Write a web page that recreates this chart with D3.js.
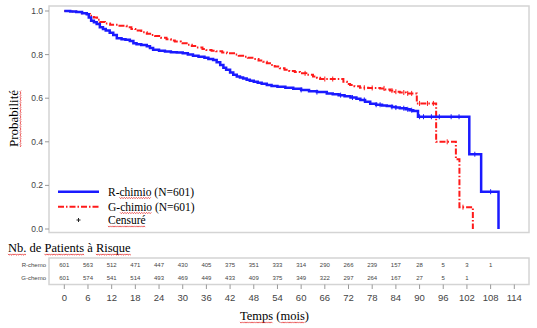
<!DOCTYPE html>
<html>
<head>
<meta charset="utf-8">
<script src="https://cdn.jsdelivr.net/npm/d3@7"></script>
<style>
	body { margin: 0; background: #fff; }
	svg { display: block; }
	.serif { font-family: "Liberation Serif", "Times New Roman", serif; fill: #000; }
	.sans { font-family: "Liberation Sans", Arial, sans-serif; }
</style>
</head>
<body>
<svg id="chart" width="537" height="328"></svg>
<script>
"use strict";

/* global d3 */

// Kaplan-Meier steps (months, survival)
var rTimes = [0, 1.5, 3, 4.5, 5.7, 6.2, 6.8, 7.5, 8.2, 9, 9.8, 10.5, 11.5, 12.4, 13.3, 14.5, 15.5, 16.6, 17.5, 18.3, 19.5, 20.9, 21.7, 22.5, 24, 25.5, 27, 28.5, 30, 31.3, 32.6, 34, 35.5, 36.5, 37.7, 38.6, 39.5, 40.3, 41, 42, 42.8, 43.7, 44.5, 45.3, 46.2, 47, 48, 49, 50, 51.3, 52.5, 54, 56, 58, 60, 62, 64, 66.5, 68, 69.5, 71, 72.5, 74, 75, 76.2, 77.5, 79, 80.5, 81.7, 83, 84, 85, 86.5, 87.5, 88.4, 89.6, 102.6, 105.6, 110];
var rSurv = [1.0, 0.998, 0.995, 0.99, 0.985, 0.97, 0.955, 0.948, 0.94, 0.925, 0.918, 0.91, 0.9, 0.89, 0.875, 0.87, 0.868, 0.862, 0.852, 0.847, 0.844, 0.838, 0.83, 0.822, 0.818, 0.814, 0.811, 0.81, 0.806, 0.8, 0.795, 0.79, 0.785, 0.78, 0.775, 0.765, 0.752, 0.74, 0.73, 0.718, 0.708, 0.7, 0.695, 0.69, 0.685, 0.68, 0.676, 0.671, 0.666, 0.66, 0.656, 0.652, 0.648, 0.643, 0.638, 0.632, 0.628, 0.622, 0.618, 0.614, 0.609, 0.603, 0.597, 0.592, 0.584, 0.574, 0.57, 0.567, 0.564, 0.56, 0.557, 0.554, 0.549, 0.545, 0.541, 0.515, 0.343, 0.171, 0.0];

var gTimes = [0, 1.5, 3, 4.5, 5.7, 6.5, 7.5, 8.3, 9, 10.3, 11.6, 13.5, 15.8, 17, 18, 19.5, 20.9, 22, 23, 24.5, 25.9, 27, 28, 29.5, 31, 32.3, 33.5, 35, 36, 37.3, 38.5, 40, 41.2, 43, 44.2, 45.3, 46.5, 48, 49.2, 50.4, 51.3, 52.1, 53.3, 54.6, 55.8, 57, 58.4, 59.7, 61.3, 63, 64, 64.8, 70.7, 71.6, 72.4, 73.5, 74.9, 77, 80, 81.2, 82.5, 83.7, 85, 86.5, 89.3, 94.2, 99.2, 100.1, 103.5];
var gSurv = [1.0, 0.998, 0.995, 0.99, 0.986, 0.978, 0.97, 0.96, 0.95, 0.943, 0.937, 0.932, 0.926, 0.918, 0.91, 0.903, 0.896, 0.89, 0.885, 0.877, 0.87, 0.865, 0.86, 0.852, 0.845, 0.839, 0.833, 0.826, 0.821, 0.818, 0.815, 0.81, 0.806, 0.8, 0.795, 0.79, 0.785, 0.78, 0.773, 0.767, 0.76, 0.752, 0.745, 0.737, 0.731, 0.725, 0.72, 0.714, 0.707, 0.7, 0.694, 0.688, 0.675, 0.665, 0.66, 0.655, 0.648, 0.647, 0.645, 0.64, 0.635, 0.63, 0.626, 0.622, 0.576, 0.4, 0.32, 0.1, 0.0];

// censored observations (months)
var rCensor = [60, 64, 70, 73, 76, 79, 80, 83, 84, 86, 87, 88, 90, 91, 93, 95, 98, 100, 104, 108];
var gCensor = [61, 66, 68, 76, 78, 81, 83, 84, 86, 87, 88, 90, 92, 93.5, 97, 101];

// number at risk table
var riskTicks = [0, 6, 12, 18, 24, 30, 36, 42, 48, 54, 60, 66, 72, 78, 84, 90, 96, 102, 108, 114];
var riskR = [601, 563, 512, 471, 447, 430, 405, 375, 351, 333, 314, 290, 266, 239, 157, 28, 5, 3, 1];
var riskG = [601, 574, 541, 514, 493, 469, 449, 433, 409, 375, 349, 322, 297, 264, 167, 27, 5, 1];
var yTicks = [0, 0.2, 0.4, 0.6, 0.8, 1.0];

var svg = d3.select("#chart");
var frameColor = "#d4d4d4";
var blue = "#1a1aff";
var red = "#ff1a1a";

var x = d3.scaleLinear().domain([0, 114]).range([64.3, 514.3]);
var y = d3.scaleLinear().domain([0, 1]).range([229, 11]);

// serif text made of parts; parts flagged true get a red spell-check squiggle
function wordText(parent, px, py, size, parts, transform) {
	var g = parent.append("g");
	if (transform) {
		g.attr("transform", transform);
	}
	var t = g.append("text")
		.attr("class", "serif")
		.attr("x", px).attr("y", py)
		.attr("font-size", size)
		.attr("xml:space", "preserve");
	if (transform) {
		t.attr("text-anchor", "middle");
	}
	parts.forEach(function(p) {
		var s = t.append("tspan").text(p[0]);
		if (p[1]) {
			s.classed("sq", true);
		}
	});
	t.selectAll("tspan.sq").each(function() {
		var b = this.getBBox();
		var yy = py + 2.2;
		var pts = [];
		for (var k = 0, xx = b.x; xx <= b.x + b.width; k++, xx += 1.2) {
			pts.push([xx, yy + (k % 2 ? 0.9 : -0.3)]);
		}
		g.append("path")
			.attr("d", d3.line()(pts))
			.attr("fill", "none")
			.attr("stroke", "#e01010")
			.attr("stroke-width", 0.7);
	});
	return g;
}

// plot frame
svg.append("rect")
	.attr("x", 49).attr("y", 6)
	.attr("width", 480).attr("height", 226.5)
	.attr("fill", "none")
	.attr("stroke", frameColor)
	.attr("stroke-width", 1.5);

// y axis ticks
var yAxis = svg.append("g").attr("class", "sans");
yAxis.selectAll("line").data(yTicks).enter().append("line")
	.attr("x1", 45).attr("x2", 49)
	.attr("y1", d => y(d)).attr("y2", d => y(d))
	.attr("stroke", "#999");
yAxis.selectAll("text").data(yTicks).enter().append("text")
	.attr("x", 43).attr("y", d => y(d) + 3)
	.attr("text-anchor", "end")
	.attr("font-size", 8.5)
	.attr("fill", "#444")
	.text(d3.format(".1f"));

// y label
wordText(svg, 0, 0, 13, [["Probabilité", true]], "translate(18,118.5) rotate(-90)");

// curves
var line = d3.line()
	.x(d => x(d[0]))
	.y(d => y(d[1]))
	.curve(d3.curveStepAfter);

var rData = d3.zip(rTimes, rSurv);
var gData = d3.zip(gTimes, gSurv);

// value of a step curve at time t
function stepAt(times, surv, t) {
	var i = d3.bisectRight(times, t) - 1;
	return surv[Math.max(0, i)];
}

svg.append("path")
	.datum(gData)
	.attr("d", line)
	.attr("fill", "none")
	.attr("stroke", red)
	.attr("stroke-width", 2)
	.attr("stroke-dasharray", "6,2,1.5,2");

svg.append("path")
	.datum(rData)
	.attr("d", line)
	.attr("fill", "none")
	.attr("stroke", blue)
	.attr("stroke-width", 2.5);

// censor marks
function drawCensor(list, times, surv, color) {
	svg.append("g").selectAll("line").data(list).enter().append("line")
		.attr("x1", d => x(d)).attr("x2", d => x(d))
		.attr("y1", d => y(stepAt(times, surv, d)) - 2.5)
		.attr("y2", d => y(stepAt(times, surv, d)) + 2.5)
		.attr("stroke", color)
		.attr("stroke-width", 1);
}
drawCensor(gCensor, gTimes, gSurv, red);
drawCensor(rCensor, rTimes, rSurv, blue);

// legend
var legend = svg.append("g");
legend.append("line")
	.attr("x1", 58).attr("x2", 99).attr("y1", 191.7).attr("y2", 191.7)
	.attr("stroke", blue).attr("stroke-width", 2.5);
legend.append("line")
	.attr("x1", 58).attr("x2", 99).attr("y1", 206.7).attr("y2", 206.7)
	.attr("stroke", red).attr("stroke-width", 2)
	.attr("stroke-dasharray", "6,2,1.5,2");
// censor symbol in the legend
legend.append("path")
	.attr("d", "M76.5,220H80.5M78.5,218V222")
	.attr("stroke", "#222")
	.attr("stroke-width", 1);

wordText(legend, 108, 195.5, 11.5, [["R-", false], ["chimio", true], [" (N=601)", false]]);
wordText(legend, 108, 210.5, 11.5, [["G-", false], ["chimio", true], [" (N=601)", false]]);
wordText(legend, 108, 224, 11.5, [["Censuré", true]]);

// risk table title
wordText(svg, 8, 252, 12.5, [["Nb.", true], [" de ", false], ["Patients", true], [" à ", false], ["Risque", true]]);

// risk table box
svg.append("rect")
	.attr("x", 49).attr("y", 258)
	.attr("width", 480).attr("height", 26.5)
	.attr("fill", "none")
	.attr("stroke", frameColor)
	.attr("stroke-width", 1.5);

var table = svg.append("g").attr("class", "sans").attr("font-size", 6).attr("fill", "#444");
table.append("text").attr("x", 46).attr("y", 266.5).attr("text-anchor", "end").text("R-chemo");
table.append("text").attr("x", 46).attr("y", 280).attr("text-anchor", "end").text("G-chemo");
table.append("g").selectAll("text").data(riskR).enter().append("text")
	.attr("x", (d, i) => x(riskTicks[i]))
	.attr("y", 266.5)
	.attr("text-anchor", "middle")
	.text(d => d);
table.append("g").selectAll("text").data(riskG).enter().append("text")
	.attr("x", (d, i) => x(riskTicks[i]))
	.attr("y", 280)
	.attr("text-anchor", "middle")
	.text(d => d);

// x axis under the table
var xAxis = svg.append("g").attr("class", "sans");
xAxis.selectAll("line").data(riskTicks).enter().append("line")
	.attr("x1", d => x(d)).attr("x2", d => x(d))
	.attr("y1", 284.5).attr("y2", 289)
	.attr("stroke", "#999");
xAxis.selectAll("text").data(riskTicks).enter().append("text")
	.attr("x", d => x(d)).attr("y", 300.5)
	.attr("text-anchor", "middle")
	.attr("font-size", 9.5)
	.attr("fill", "#444")
	.text(d => d);

// x label
wordText(svg, 240, 320, 12.5, [["Temps", true], [" (", false], ["mois", true], [")", false]]);
</script>
</body>
</html>
